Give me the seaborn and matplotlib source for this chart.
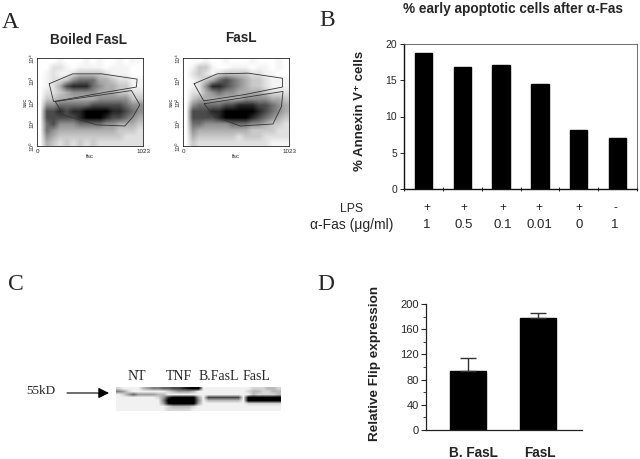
import numpy as np
import pandas as pd
import matplotlib
matplotlib.use("Agg")
import matplotlib.pyplot as plt
import seaborn as sns

sns.set_style("white")
plt.rcParams['font.family'] = ['Liberation Sans', 'DejaVu Sans']

# Panel A: dot density (ink 0-9, top row = high ssc)
density_boiled = ["0001000101001010", "0022101111011100", "0121123333211100", "0122356664432211",
                  "0124788865443311", "0223455554443322", "0334444445555533", "0556666677777655",
                  "0778788999988765", "0777778999877654", "0675556666554443", "0654444444443332",
                  "0543333333333222", "0432323232222222"]
density_fasl = ["0001001000100010", "0133100111011010", "0232123333221100", "0123467654332111",
                "0125887654332111", "0224565544443222", "0344444445555443", "0566667788877654",
                "0777889999987654", "0777789999876543", "0665555666554332", "0544444444333322",
                "0433333323332222", "0322222222222111"]
gate_up_boiled_x = [118, 345, 624, 966, 959, 608, 160, 118]
gate_up_boiled_y = [2.83, 3.28, 3.28, 3.04, 2.68, 2.40, 2.02, 2.83]
gate_lo_boiled_x = [176, 912, 992, 928, 848, 576, 256, 176]
gate_lo_boiled_y = [2.02, 2.52, 1.87, 1.34, 0.91, 0.96, 1.41, 2.02]
gate_up_fasl_x = [107, 330, 630, 960, 960, 585, 200, 107]
gate_up_fasl_y = [2.83, 3.28, 3.31, 3.08, 2.68, 2.33, 2.05, 2.83]
gate_lo_fasl_x = [205, 965, 950, 868, 553, 300, 205]
gate_lo_fasl_y = [1.92, 2.48, 1.79, 1.00, 0.91, 1.34, 1.92]
log_ticks = [0, 1, 2, 3, 4]
log_labels = ["10⁰", "10¹", "10²", "10³", "10⁴"]

# Panel B
b_labels = ["1", "0.5", "0.1", "0.01", "0", "1"]
lps_labels = ["+", "+", "+", "+", "+", "-"]
b_values = [18.7, 16.8, 17.1, 14.5, 8.2, 7.1]
b_yticks = [0, 5, 10, 15, 20]

# Panel C: blot intensity (0-9), 33 columns
blot = ["100002344556678990000000000111221",
        "431000000012333200000000001221122",
        "013533332200000000000000000211112",
        "000000001379999930666666609999999",
        "000000000499999940222222209999999",
        "000000000389999930000000001111111",
        "000000000012222100000000000000000",
        "000000000011111000000000000000000"]
blot_labels = ["NT", "TNF", "B.FasL", "FasL"]

# Panel D
d_labels = ["B. FasL", "FasL"]
d_values = [93, 178]
d_errors = [22, 8]
d_yticks = [0, 40, 80, 120, 160, 200]

W, H = 640, 459
fig = plt.figure(figsize=(W / 100, H / 100), dpi=100, facecolor="white")


def axes_px(x0, y0, x1, y1):
    return fig.add_axes([x0 / W, 1 - y1 / H, (x1 - x0) / W, (y1 - y0) / H])


def txt(x, y, s, **kw):
    kw.setdefault("ha", "center")
    kw.setdefault("va", "center")
    fig.text(x / W, 1 - y / H, s, **kw)


def grid(rows):
    return np.array([[int(c) for c in r] for r in rows], dtype=float)


def flow(box, rows, up, lo):
    ax = axes_px(*box)
    ax.imshow((grid(rows) / 9) ** 1.4, cmap="gray_r", vmin=0, vmax=1, aspect="auto",
              extent=[0, 1023, 0, 4], interpolation="bilinear")
    ax.plot(up[0], up[1], color="#333333", lw=0.6)
    ax.plot(lo[0], lo[1], color="#333333", lw=0.6)
    ax.set_xlim(0, 1023)
    ax.set_ylim(0, 4)
    ax.set_xticks([0, 1023], ["0", "1023"], fontsize=4.5)
    ax.set_yticks(log_ticks, log_labels, fontsize=4.5, rotation=90, va="center")
    ax.tick_params(length=1, width=0.4, pad=1)
    ax.set_xlabel("fsc", fontsize=4.5, labelpad=0)
    ax.set_ylabel("ssc", fontsize=4.5, labelpad=1)
    for s in ax.spines.values():
        s.set_linewidth(0.6)
        s.set_color("#222222")


flow((37, 58, 143, 146), density_boiled, (gate_up_boiled_x, gate_up_boiled_y), (gate_lo_boiled_x, gate_lo_boiled_y))
flow((183, 58, 289, 146), density_fasl, (gate_up_fasl_x, gate_up_fasl_y), (gate_lo_fasl_x, gate_lo_fasl_y))
txt(88, 40, "Boiled FasL", fontsize=9.8, fontweight="bold")
txt(241, 38, "FasL", fontsize=9.8, fontweight="bold")

# Panel B
axb = axes_px(404, 44, 637, 189)
sns.barplot(data=pd.DataFrame({"pos": range(6), "v": b_values}), x="pos", y="v", color="black",
            saturation=1, width=0.45, ax=axb, edgecolor="black")
axb.set_xlim(-0.5, 5.5)
axb.set_ylim(0, 20)
axb.set_yticks(b_yticks)
axb.set_xticks(np.arange(-0.5, 6, 1), [""] * 7)
axb.tick_params(axis="y", left=True, length=3, width=0.7, labelsize=7.5, pad=2)
axb.tick_params(axis="x", bottom=True, length=2.5, width=0.7, direction="inout")
axb.set_xlabel("")
axb.set_ylabel("")
for k, s in axb.spines.items():
    s.set_linewidth(1.0 if k in ("bottom", "left") else 0.6)
    s.set_color("#111111" if k in ("bottom", "left") else "#555555")
txt(513, 9, "% early apoptotic cells after α-Fas", fontsize=9.8, fontweight="bold")
txt(360, 111, "% Annexin V⁺ cells", fontsize=9.5, rotation=90, fontweight="bold", color="#222222")
txt(363, 209, "LPS", fontsize=8.8, ha="right")
txt(393, 225, "α-Fas (μg/ml)", fontsize=10, ha="right")
lab_x = [427, 464, 503, 539, 579, 615]
for x, p, v in zip(lab_x, lps_labels, b_labels):
    txt(x, 208, p, fontsize=8.5)
    txt(x, 225, v, fontsize=9.5)

# Panel C
axc = axes_px(116, 387, 281, 411)
axc.imshow(grid(blot) + 0.5, cmap="gray_r", vmin=0, vmax=9, aspect="auto", interpolation="bilinear")
axc.axis("off")
for x, s in zip([137, 179, 219, 256], blot_labels):
    txt(x, 376, s, fontsize=10, family="Liberation Serif")
txt(41, 391, "55kD", fontsize=9.5, family="Liberation Serif")
fig.add_artist(matplotlib.patches.FancyArrowPatch((67 / W, 1 - 393 / H), (109 / W, 1 - 393 / H),
                                                  transform=fig.transFigure, arrowstyle="-|>",
                                                  mutation_scale=16, color="black", lw=0.8,
                                                  shrinkA=0, shrinkB=0))

# Panel D
axd = axes_px(426, 304, 582, 430)
sns.barplot(data=pd.DataFrame({"pos": range(2), "v": d_values}), x="pos", y="v", color="black",
            saturation=1, width=0.514, ax=axd, edgecolor="black")
axd.errorbar([0, 1], d_values, yerr=[[0, 0], d_errors], fmt="none", ecolor="#333333",
             elinewidth=1, capsize=6, capthick=1)
axd.set_xlim(-0.604, 1.624)
axd.set_ylim(0, 200)
axd.set_yticks(d_yticks)
axd.set_yticks(np.arange(0, 201, 20), minor=True)
axd.set_xticks([])
axd.tick_params(axis="y", which="major", left=True, length=3.5, width=0.8, labelsize=8, pad=1.5)
axd.tick_params(axis="y", which="minor", left=True, length=2, width=0.6)
axd.set_xlabel("")
axd.set_ylabel("")
sns.despine(ax=axd)
for k in ("bottom", "left"):
    axd.spines[k].set_linewidth(0.9)
    axd.spines[k].set_color("#222222")
txt(375, 363, "Relative Flip expression", fontsize=9.7, rotation=90, fontweight="bold", color="#222222")
for x, s in zip([473, 540], d_labels):
    txt(x, 453, s, fontsize=9.8, fontweight="bold", color="#222222")

for x, y, s in [(10, 22, "A"), (327, 21, "B"), (16, 284, "C"), (326, 284, "D")]:
    txt(x, y, s, fontsize=17, family="Liberation Serif")

fig.savefig("out.png", dpi=100)
